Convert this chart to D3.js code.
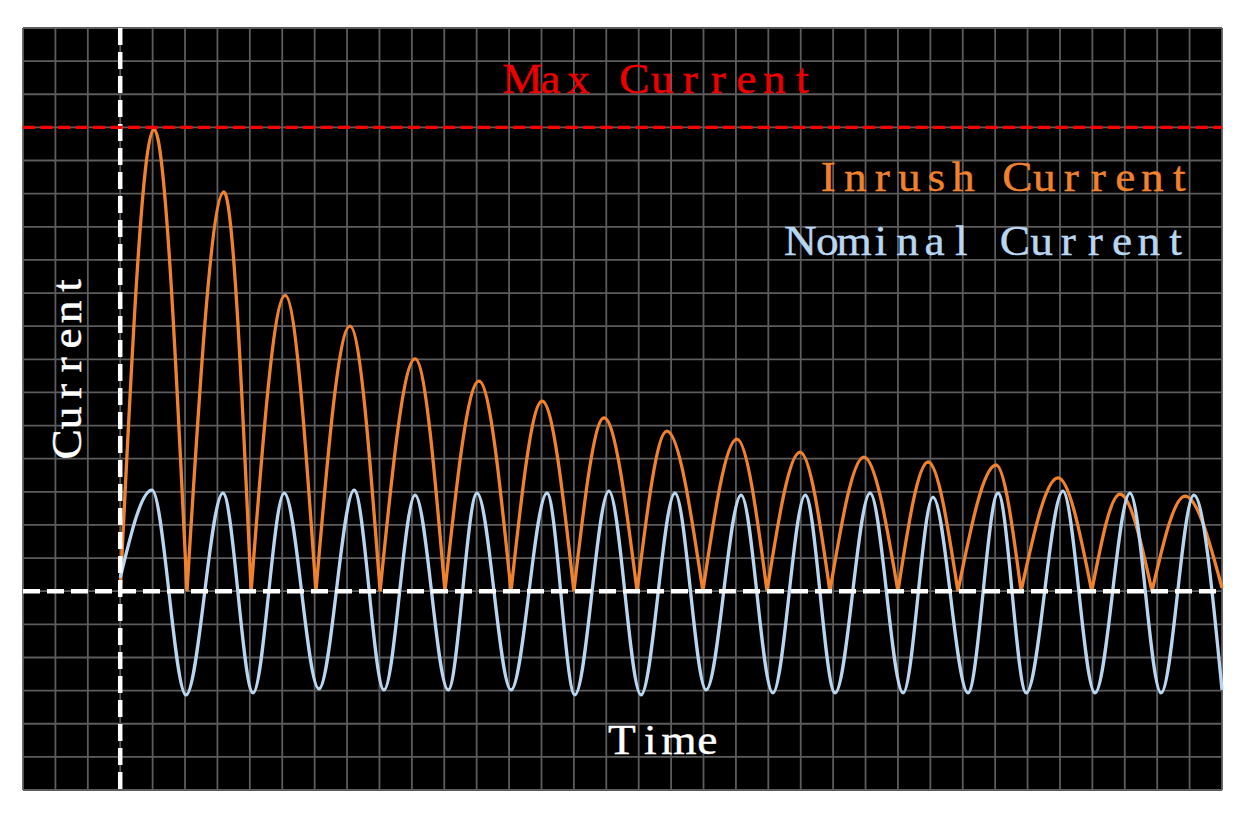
<!DOCTYPE html>
<html>
<head>
<meta charset="utf-8">
<script src="https://cdn.jsdelivr.net/npm/d3@7"></script>
<style>
  body { margin: 0; background: #fff; }
  text { font-family: "Liberation Serif", "DejaVu Serif", serif; }
</style>
</head>
<body>
<div id="chart"></div>
<script>
// inrush current: rectified, decaying - peaks and zero touches
var inrushPeakX = [1.04, 3.20, 5.09, 7.09, 9.10, 11.07, 13.02, 14.93, 16.87, 19.03, 20.98, 22.95, 24.93, 27.03, 28.94, 30.85, 32.86];
var inrushPeakY = [13.95, 12.05, 8.93, 8.00, 7.01, 6.34, 5.74, 5.23, 4.83, 4.59, 4.20, 4.05, 3.90, 3.81, 3.42, 2.93, 2.87];
var inrushZeroX = [0, 2.06, 4.04, 6.04, 8.02, 10.02, 12.06, 14.00, 15.95, 17.98, 19.96, 21.90, 24.00, 25.85, 27.80, 29.98, 31.84, 34.0];
var inrushZeroY = [0, 0, 0, 0, 0, 0, 0, 0, 0, 0, 0, 0, 0, 0, 0, 0, 0, 0.1];

// nominal current: start, alternating peaks / troughs, end
var nominalX = [0, 0.98, 2.03, 3.17, 4.10, 5.06, 6.13, 7.22, 8.14, 9.10, 10.12, 11.01, 12.06, 13.17, 14.03, 15.08, 16.07, 17.12, 18.08, 19.16, 20.14, 21.14, 22.06, 23.14, 24.16, 25.08, 26.16, 27.09, 27.96, 29.09, 30.08, 31.16, 32.12, 33.13, 34.0];
var nominalY = [0.40, 3.05, -3.13, 2.96, -3.07, 2.96, -2.95, 3.05, -2.98, 2.90, -2.98, 2.96, -2.98, 2.96, -3.13, 3.02, -3.13, 2.96, -2.98, 2.90, -3.07, 2.90, -3.07, 2.96, -3.07, 2.84, -3.07, 2.96, -3.07, 3.02, -3.07, 2.96, -3.07, 2.90, -2.98];

var maxCurrent = 14;
var xDomain = [-3, 34], yDomain = [-6, 17];

var width = 1248, height = 815;
var pLeft = 23, pRight = 1222, pTop = 28, pBottom = 790;

var svg = d3.select("#chart").append("svg")
  .attr("width", width)
  .attr("height", height);

var x = d3.scaleLinear().domain(xDomain).range([pLeft, pRight]);
var y = d3.scaleLinear().domain(yDomain).range([pBottom, pTop]);

svg.append("rect")
  .attr("x", pLeft).attr("y", pTop)
  .attr("width", pRight - pLeft).attr("height", pBottom - pTop)
  .attr("fill", "#000");

// grid, one line per unit
svg.append("g").selectAll("line")
  .data(d3.range(xDomain[0], xDomain[1] + 1))
  .enter().append("line")
  .attr("x1", d => x(d)).attr("x2", d => x(d))
  .attr("y1", pTop).attr("y2", pBottom)
  .attr("stroke", "#5c5c5c").attr("stroke-width", 1.8);

svg.append("g").selectAll("line")
  .data(d3.range(yDomain[0], yDomain[1] + 1))
  .enter().append("line")
  .attr("x1", pLeft).attr("x2", pRight)
  .attr("y1", d => y(d)).attr("y2", d => y(d))
  .attr("stroke", "#5c5c5c").attr("stroke-width", 1.8);

var line = d3.line()
  .x(d => x(d[0]))
  .y(d => y(d[1]))
  .curve(d3.curveMonotoneX);

// inrush: one arch per half cycle, joined into one path so the bottoms stay sharp
var arches = inrushPeakX.map((px, i) => [
  [inrushZeroX[i], inrushZeroY[i]],
  [px, inrushPeakY[i]],
  [inrushZeroX[i + 1], inrushZeroY[i + 1]]
]);
var inrushPath = arches.map((a, i) => {
  var s = line(a);
  return i ? s.replace(/^M[^C]*/, "") : s;
}).join("");

svg.append("path")
  .attr("d", inrushPath)
  .attr("fill", "none")
  .attr("stroke", "#f0822e")
  .attr("stroke-width", 3.3);

svg.append("path")
  .datum(nominalX.map((d, i) => [d, nominalY[i]]))
  .attr("d", line)
  .attr("fill", "none")
  .attr("stroke", "#b9d6f0")
  .attr("stroke-width", 3.3);

// axes through the origin
svg.append("line")
  .attr("x1", x(0)).attr("x2", x(0))
  .attr("y1", pTop).attr("y2", pBottom)
  .attr("stroke", "#fff").attr("stroke-width", 4.5)
  .attr("stroke-dasharray", "17,7");

svg.append("line")
  .attr("x1", pLeft).attr("x2", pRight)
  .attr("y1", y(0)).attr("y2", y(0))
  .attr("stroke", "#fff").attr("stroke-width", 4.5)
  .attr("stroke-dasharray", "17,7");

svg.append("line")
  .attr("x1", pLeft).attr("x2", pRight)
  .attr("y1", y(maxCurrent)).attr("y2", y(maxCurrent))
  .attr("stroke", "#ff0000").attr("stroke-width", 3.3)
  .attr("stroke-dasharray", "12.2,5.3");

// typewriter-like labels: every letter centred in its own cell
function label(txt, cx, cy, adv, color, vertical) {
  var n = txt.length, sx = 1.08;
  var t = svg.append("text")
    .attr("transform", "translate(" + x(cx) + "," + y(cy) + ")" +
      (vertical ? " rotate(-90)" : "") + " scale(" + sx + ",1)")
    .attr("font-size", 42)
    .attr("fill", color)
    .attr("stroke", color)
    .attr("stroke-width", 0.4)
    .attr("text-anchor", "middle");
  t.selectAll("tspan")
    .data(txt.split(""))
    .enter().append("tspan")
    .attr("x", (d, i) => (i - (n - 1) / 2) * adv / sx)
    .text(d => d);
}

label("Max Current", 16.73, 15.04, 28, "#ee0000");
label("Inrush Current", 27.27, 12.08, 27, "#f0822e");
label("Nominal Current", 26.78, 10.15, 26.8, "#b9d6f0");
label("Time", 16.8, -4.91, 28.5, "#fff");
label("Current", -1.21, 6.83, 26.5, "#fff", true);
</script>
</body>
</html>
